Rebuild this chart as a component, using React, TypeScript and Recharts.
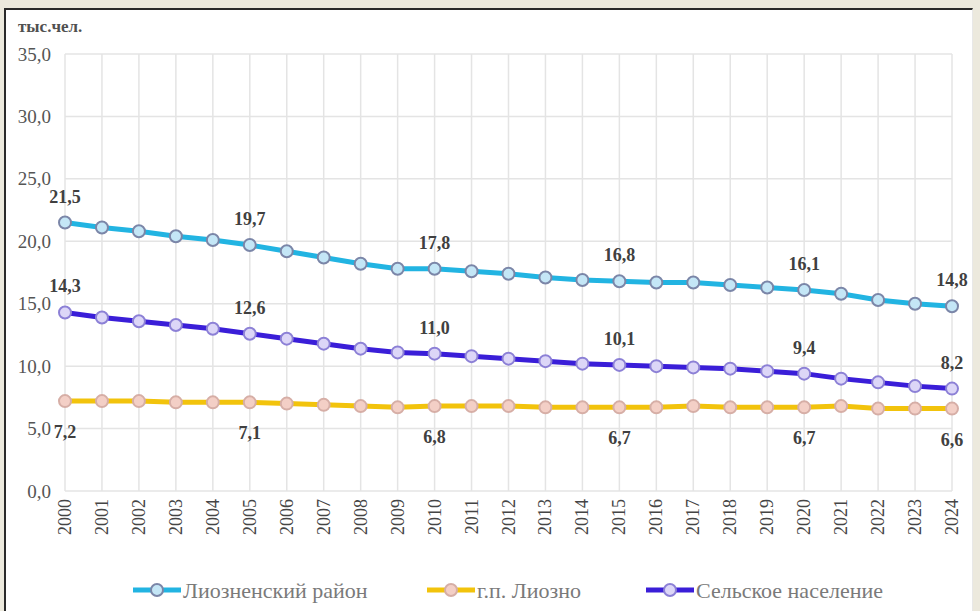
import React from "react";
import {
  LineChart,
  Line,
  XAxis,
  YAxis,
  CartesianGrid,
  LabelList,
} from "recharts";

const years = [
  "2000", "2001", "2002", "2003", "2004", "2005", "2006", "2007", "2008", "2009",
  "2010", "2011", "2012", "2013", "2014", "2015", "2016", "2017", "2018", "2019",
  "2020", "2021", "2022", "2023", "2024",
];

const district = [
  21.5, 21.1, 20.8, 20.4, 20.1, 19.7, 19.2, 18.7, 18.2, 17.8,
  17.8, 17.6, 17.4, 17.1, 16.9, 16.8, 16.7, 16.7, 16.5, 16.3,
  16.1, 15.8, 15.3, 15.0, 14.8,
];

const town = [
  7.2, 7.2, 7.2, 7.1, 7.1, 7.1, 7.0, 6.9, 6.8, 6.7,
  6.8, 6.8, 6.8, 6.7, 6.7, 6.7, 6.7, 6.8, 6.7, 6.7,
  6.7, 6.8, 6.6, 6.6, 6.6,
];

const rural = [
  14.3, 13.9, 13.6, 13.3, 13.0, 12.6, 12.2, 11.8, 11.4, 11.1,
  11.0, 10.8, 10.6, 10.4, 10.2, 10.1, 10.0, 9.9, 9.8, 9.6,
  9.4, 9.0, 8.7, 8.4, 8.2,
];

const yTicks = [0, 5, 10, 15, 20, 25, 30, 35];
const labeledIdx = [0, 5, 10, 15, 20, 24];

const seriesNames = ["Лиозненский район", "г.п. Лиозно", "Сельское население"];
const unitLabel = "тыс.чел.";

const data = years.map((y, i) => ({
  year: y,
  district: district[i],
  town: town[i],
  rural: rural[i],
}));

const FONT = "'Liberation Serif', 'DejaVu Serif', serif";
const fmt = (v: number) => v.toFixed(1).replace(".", ",");

const COLORS = {
  district: { line: "#22b4e2", fill: "#c4e6f6", stroke: "#7b86a8" },
  town: { line: "#f2c30c", fill: "#f3cfc6", stroke: "#d6aea6" },
  rural: { line: "#3a1ed8", fill: "#dcd6f7", stroke: "#8c80d6" },
};

const makeLabel = (dy: number) => (props: any) => {
  const { x, y, value, index } = props;
  if (!labeledIdx.includes(index)) return null;
  return (
    <text
      x={x}
      y={y + dy}
      textAnchor="middle"
      dominantBaseline="central"
      style={{ fontFamily: FONT, fontSize: 18, fontWeight: "bold" }}
      fill="#404040"
    >
      {fmt(value)}
    </text>
  );
};

const XTick = (props: any) => {
  const { x, payload } = props;
  return (
    <text
      x={x}
      y={499}
      transform={`rotate(-90, ${x}, 499)`}
      textAnchor="end"
      dominantBaseline="central"
      style={{ fontFamily: FONT, fontSize: 18 }}
      fill="#454545"
    >
      {payload.value}
    </text>
  );
};

const YTick = (props: any) => {
  const { x, y, payload } = props;
  return (
    <text
      x={x}
      y={y}
      textAnchor="end"
      dominantBaseline="central"
      style={{ fontFamily: FONT, fontSize: 19 }}
      fill="#555555"
    >
      {fmt(payload.value)}
    </text>
  );
};

const legendPos = [
  { key: "district", x: 133 },
  { key: "town", x: 427 },
  { key: "rural", x: 646 },
];

const LegendBlock = () => (
  <svg width={980} height={30} style={{ position: "absolute", left: 0, top: 575 }}>
    {legendPos.map((p, i) => {
      const c = (COLORS as any)[p.key];
      return (
        <g key={p.key}>
          <line x1={p.x} x2={p.x + 48} y1={15} y2={15} stroke={c.line} strokeWidth={5} />
          <circle cx={p.x + 24} cy={15} r={6} fill={c.fill} stroke={c.stroke} strokeWidth={2} />
          <text
            x={p.x + 50}
            y={15}
            dominantBaseline="central"
            style={{ fontFamily: FONT, fontSize: 22 }}
            fill="#7a7a7a"
          >
            {seriesNames[i]}
          </text>
        </g>
      );
    })}
  </svg>
);

export default function App() {
  return (
    <div
      style={{
        position: "absolute",
        left: 0,
        top: 0,
        width: 980,
        height: 611,
        background: "#ece9dd",
        overflow: "hidden",
      }}
    >
      <div
        style={{
          position: "absolute",
          left: 4,
          top: 8,
          width: 966,
          height: 610,
          background: "#ffffff",
          borderLeft: "2px solid #2a2a2a",
          borderTop: "2px solid #2a2a2a",
          borderRight: "1px solid #e8e8e8",
        }}
      />
      <div
        style={{
          position: "absolute",
          left: 18,
          top: 17,
          fontFamily: FONT,
          fontSize: 17,
          fontWeight: "bold",
          color: "#505050",
        }}
      >
        {unitLabel}
      </div>
      <div style={{ position: "absolute", left: 0, top: 0 }}>
        <LineChart
          width={980}
          height={611}
          data={data}
          margin={{ top: 54, right: 28, bottom: 0, left: 0 }}
        >
          <CartesianGrid stroke="#e4e4e4" strokeWidth={1.5} />
          <XAxis
            dataKey="year"
            axisLine={false}
            tickLine={false}
            interval={0}
            tick={<XTick />}
            height={120}
          />
          <YAxis
            domain={[0, 35]}
            ticks={yTicks}
            axisLine={false}
            tickLine={false}
            tickSize={0}
            tickMargin={14}
            width={65}
            tick={<YTick />}
          />
          <Line
            dataKey="district"
            name={seriesNames[0]}
            stroke={COLORS.district.line}
            strokeWidth={5}
            dot={{ r: 6, fill: COLORS.district.fill, stroke: COLORS.district.stroke, strokeWidth: 2 }}
            isAnimationActive={false}
          >
            <LabelList dataKey="district" content={makeLabel(-26)} />
          </Line>
          <Line
            dataKey="town"
            name={seriesNames[1]}
            stroke={COLORS.town.line}
            strokeWidth={5}
            dot={{ r: 6, fill: COLORS.town.fill, stroke: COLORS.town.stroke, strokeWidth: 2 }}
            isAnimationActive={false}
          >
            <LabelList dataKey="town" content={makeLabel(31)} />
          </Line>
          <Line
            dataKey="rural"
            name={seriesNames[2]}
            stroke={COLORS.rural.line}
            strokeWidth={5}
            dot={{ r: 6, fill: COLORS.rural.fill, stroke: COLORS.rural.stroke, strokeWidth: 2 }}
            isAnimationActive={false}
          >
            <LabelList dataKey="rural" content={makeLabel(-26)} />
          </Line>
        </LineChart>
      </div>
      <LegendBlock />
    </div>
  );
}
